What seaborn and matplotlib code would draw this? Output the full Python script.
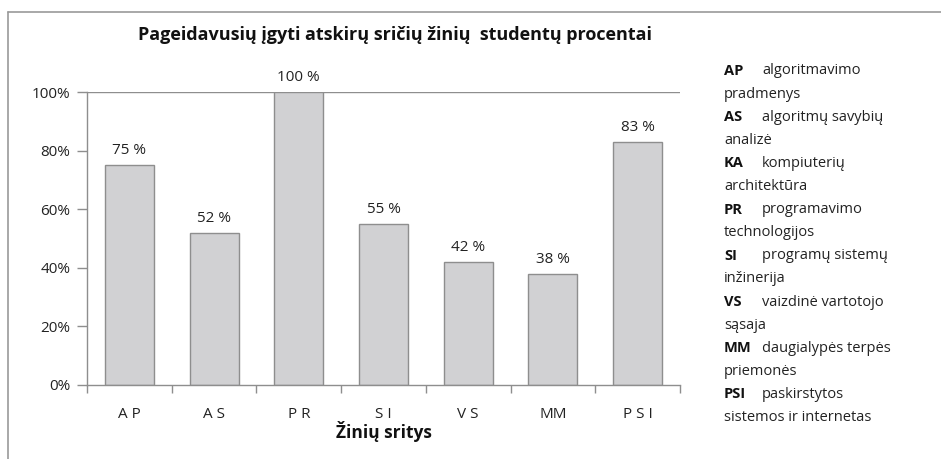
import matplotlib
matplotlib.use("Agg")
import matplotlib.pyplot as plt
import seaborn as sns
import pandas as pd
from matplotlib.lines import Line2D

categories = ["AP", "AS", "PR", "SI", "VS", "MM", "PSI"]
tick_labels = ["A P", "A S", "P R", "S I", "V S", "MM", "P S I"]
values = [75, 52, 100, 55, 42, 38, 83]
value_labels = ["75 %", "52 %", "100 %", "55 %", "42 %", "38 %", "83 %"]
y_ticks = [0, 20, 40, 60, 80, 100]
y_tick_labels = ["0%", "20%", "40%", "60%", "80%", "100%"]
title = "Pageidavusių įgyti atskirų sričių žinių  studentų procentai"
x_title = "Žinių sritys"
legend_abbr = ["AP", "AS", "KA", "PR", "SI", "VS", "MM", "PSI"]
legend_desc = ["algoritmavimo", "algoritmų savybių", "kompiuterių", "programavimo",
               "programų sistemų", "vaizdinė vartotojo", "daugialypės terpės", "paskirstytos"]
legend_cont = ["pradmenys", "analizė", "architektūra", "technologijos",
               "inžinerija", "sąsaja", "priemonės", "sistemos ir internetas"]

sns.set_theme(style="white")
plt.rcParams["font.family"] = ["Open Sans", "DejaVu Sans"]

W, H = 941, 459
fig = plt.figure(figsize=(W / 100, H / 100), dpi=100)
ax = fig.add_axes([87 / W, 1 - 385 / H, (680 - 87) / W, (385 - 92) / H])

df = pd.DataFrame({"cat": categories, "val": values})
sns.barplot(data=df, x="cat", y="val", ax=ax, color="#d1d1d3", saturation=1,
            width=0.58, edgecolor="#8e8e8e", linewidth=1.0)

ax.set_xlim(-0.5, len(categories) - 0.5)
ax.set_ylim(0, 100)
ax.set_yticks(y_ticks)
ax.set_yticklabels(y_tick_labels, fontsize=11, color="#222222")
ax.set_xticks(range(len(categories)))
ax.set_xticklabels(tick_labels, fontsize=11, color="#222222")
ax.set_xticks([i - 0.5 for i in range(len(categories) + 1)], minor=True)
ax.tick_params(axis="x", which="major", length=0, pad=16)
ax.tick_params(axis="x", which="minor", length=6, width=1, color="#8e8e8e", direction="out", bottom=True)
ax.tick_params(axis="y", which="major", length=7, width=1, color="#8e8e8e", direction="out", left=True, pad=5)
ax.set_ylabel("")
ax.set_xlabel(x_title, fontsize=12.5, fontweight="bold", labelpad=-1, color="#111111")

for s in ["top", "right"]:
    ax.spines[s].set_visible(False)
for s in ["left", "bottom"]:
    ax.spines[s].set_color("#8e8e8e")
    ax.spines[s].set_linewidth(1)
ax.axhline(100, color="#8e8e8e", linewidth=1, zorder=0)

for i, (v, lab) in enumerate(zip(values, value_labels)):
    ax.annotate(lab, (i, v), xytext=(0, 5), textcoords="offset points",
                ha="center", va="bottom", fontsize=11, color="#222222")

fig.text(395 / W, 1 - 35 / H, title, ha="center", va="center",
         fontsize=13, fontweight="bold", color="#111111")

# legend text block
y0 = 71
step = 23.1
for k, (a, d, c) in enumerate(zip(legend_abbr, legend_desc, legend_cont)):
    y1 = y0 + 2 * k * step
    y2 = y1 + step
    fig.text(724 / W, 1 - y1 / H, a, ha="left", va="center", fontsize=10.5,
             fontweight="bold", color="#111111")
    fig.text(762 / W, 1 - y1 / H, d, ha="left", va="center", fontsize=10.5, color="#222222")
    fig.text(724 / W, 1 - y2 / H, c, ha="left", va="center", fontsize=10.5, color="#222222")

# chart area border (partially visible)
fig.add_artist(Line2D([8 / W, 1], [1 - 12 / H, 1 - 12 / H], transform=fig.transFigure,
                      color="#999999", linewidth=1.2))
fig.add_artist(Line2D([8 / W, 8 / W], [0, 1 - 12 / H], transform=fig.transFigure,
                      color="#999999", linewidth=1.2))

fig.savefig("out.png", dpi=100)
